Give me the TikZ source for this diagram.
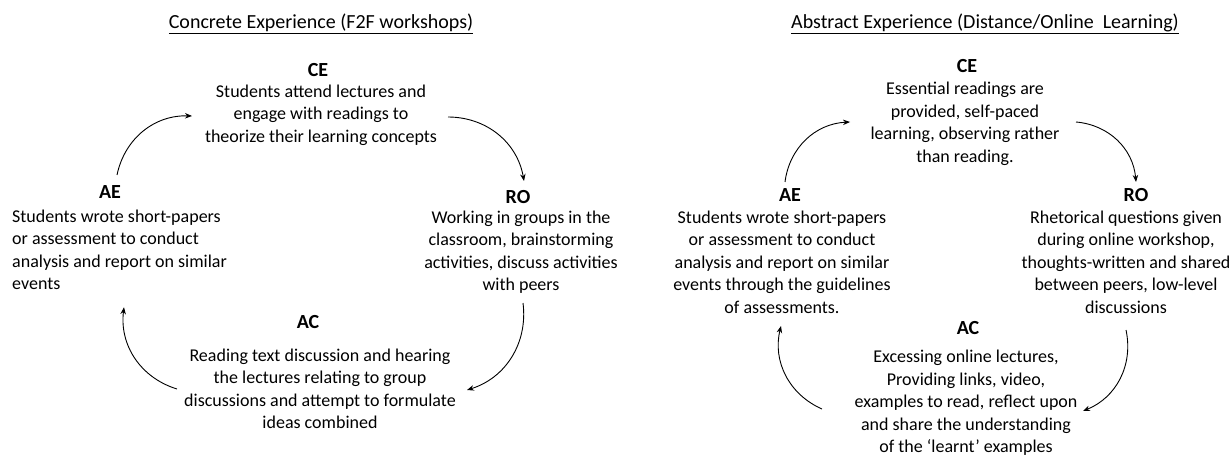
\documentclass[tikz,border=0pt]{standalone}
\usepackage{fontspec}
\setmainfont{Carlito}
\usetikzlibrary{arrows.meta}
\tikzset{
    txt/.style={inner sep=0pt, align=center, font=\fontsize{18}{22.5}\selectfont},
    ttl/.style={inner sep=0pt, font=\fontsize{20}{24}\selectfont},
    lbl/.style={inner sep=0pt, font=\fontsize{20}{24}\selectfont\bfseries},
    cyc/.style={line width=.9pt, -{Stealth[length=7pt,width=5.5pt]}, bend left=40}
}
\begin{document}
\begin{tikzpicture}[x=1pt,y=-1pt]
\useasboundingbox (0,0) rectangle (1230,462);

\node[ttl] (titleA) at (321,24) {\underline{Concrete Experience (F2F workshops)}};
\node[ttl] (titleB) at (985,24) {\underline{Abstract Experience (Distance/Online\ \ Learning)}};

\foreach \nm/\lb/\x/\y in {ceLblA/CE/318/70, aeLblA/AE/110/192, roLblA/RO/518/197, acLblA/AC/308/322,
    ceLblB/CE/967/66, aeLblB/AE/790/195, roLblB/RO/1136/195, acLblB/AC/968/328}
{
    \node[lbl] (\nm) at (\x,\y) {\lb};
}

\node[txt] (ceA) at (321,115) {Students attend lectures and\\engage with readings to\\theorize their learning concepts};
\node[txt, align=left, anchor=west] (aeA) at (12,250) {Students wrote short-papers\\or assessment to conduct\\analysis and report on similar\\events};
\node[txt] (roA) at (521,252) {Working in groups in the\\classroom, brainstorming\\activities, discuss activities\\with peers};
\node[txt] (acA) at (320,389) {Reading text discussion and hearing\\the lectures relating to group\\discussions and attempt to formulate\\ideas combined};

\node[txt] (ceB) at (965,124) {Essential readings are\\provided, self-paced\\learning, observing rather\\than reading.};
\node[txt] (aeB) at (782,262) {Students wrote short-papers\\or assessment to conduct\\analysis and report on similar\\events through the guidelines\\of assessments.};
\node[txt] (roB) at (1126,262) {Rhetorical questions given\\during online workshop,\\thoughts-written and shared\\between peers, low-level\\discussions};
\node[txt] (acB) at (966,403) {Excessing online lectures,\\Providing links, video,\\examples to read, reflect upon\\and share the understanding\\of the `learnt' examples};

\draw[cyc] ([shift={(7,-17)}]aeLblA.center) to ([shift={(-129,1)}]ceA.center);
\draw[cyc] ([shift={(127,2)}]ceA.center) to ([shift={(6,-16)}]roLblA.center);
\draw[cyc] ([shift={(2,51)}]roA.center) to ([shift={(147,1)}]acA.center);
\draw[cyc] ([shift={(-143,0)}]acA.center) to ([shift={(112,17)}]aeA.south west);

\draw[cyc] ([shift={(-5,-13)}]aeLblB.center) to ([shift={(-115,-2)}]ceB.center);
\draw[cyc] ([shift={(111,-2)}]ceB.center) to ([shift={(0,-13)}]roLblB.center);
\draw[cyc] ([shift={(0,68)}]roB.center) to ([shift={(117,8)}]acB.center);
\draw[cyc] ([shift={(-144,6)}]acB.center) to ([shift={(-1,64)}]aeB.center);
\end{tikzpicture}
\end{document}
